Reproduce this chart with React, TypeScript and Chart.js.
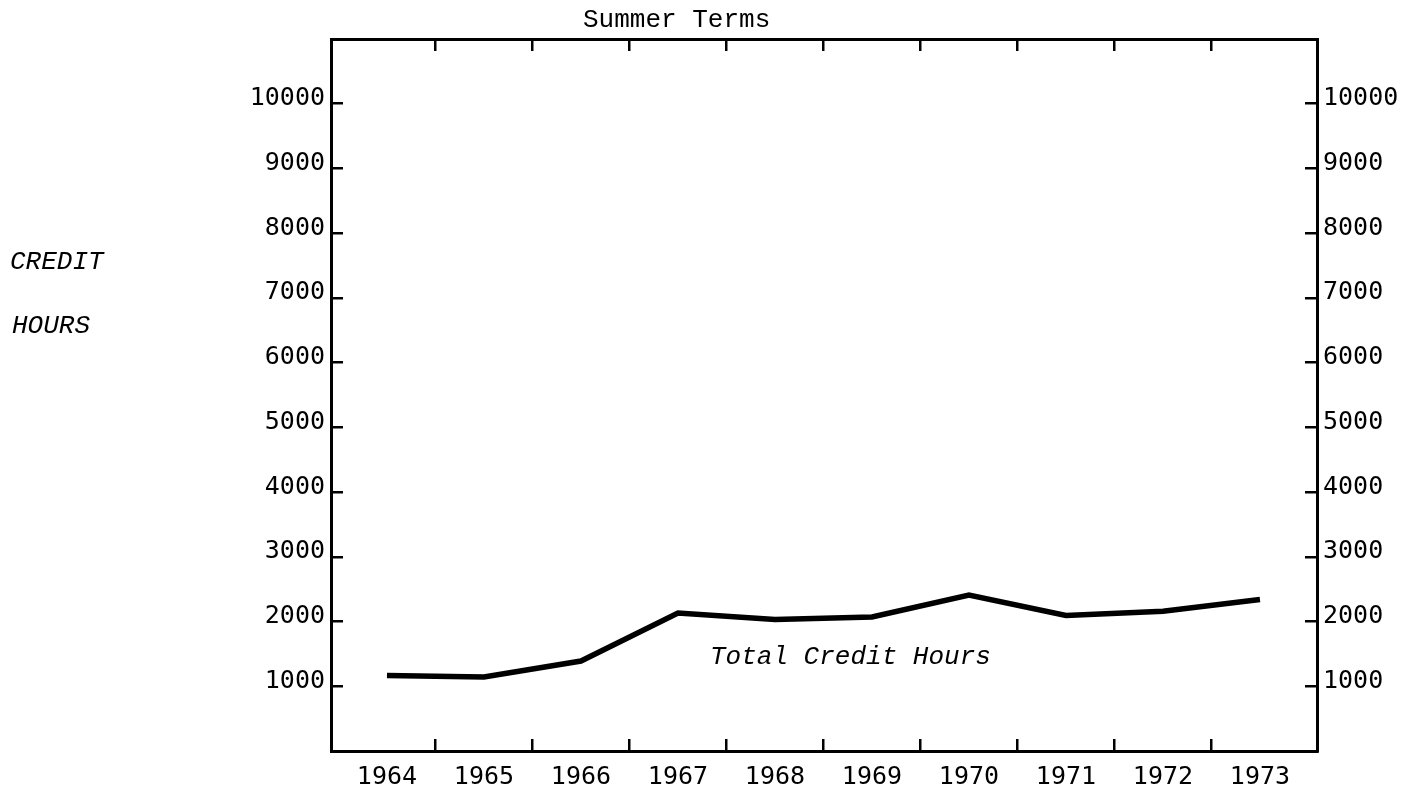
import React, { useEffect, useRef } from "react";
import { Chart, registerables } from "chart.js";

Chart.register(...registerables);

const years: number[] = [1964, 1965, 1966, 1967, 1968, 1969, 1970, 1971, 1972, 1973];
const creditHours: number[] = [1165, 1145, 1390, 2130, 2030, 2070, 2410, 2095, 2160, 2340];
const yMin = 0;
const yMax = 11000;
const yStep = 1000;
const yTickFirst = 1000;
const yTickLast = 10000;
const xMin = 1963.423;
const xMax = 1973.588;

const titleText = "Summer Terms";
const yTitleLines: string[] = ["CREDIT", "HOURS"];
const seriesLabel = "Total Credit Hours";

const tickFont = { family: "'DejaVu Sans Mono', monospace", size: 25 };
const BLACK = "#000000";

function tickColor(ctx: any) {
  return ctx.type === "tick" && ctx.index > 0 ? BLACK : "rgba(0,0,0,0)";
}

function yearTicks(scale: any) {
  scale.ticks = years.map((v) => ({ value: v }));
}

export default function App() {
  const canvasRef = useRef<HTMLCanvasElement | null>(null);

  useEffect(() => {
    document.body.style.margin = "0";
    document.body.style.overflow = "hidden";
    const canvas = canvasRef.current;
    if (!canvas) return;

    const xCommon = {
      type: "linear" as const,
      min: xMin,
      max: xMax,
      bounds: "data" as const,
      border: { display: true, color: BLACK, width: 3 },
      grid: {
        offset: true,
        drawOnChartArea: false,
        drawTicks: true,
        tickLength: -12,
        lineWidth: 2.5,
        color: tickColor,
      },
      afterBuildTicks: yearTicks,
    };

    const yCommon = {
      type: "linear" as const,
      min: yMin,
      max: yMax,
      border: { display: true, color: BLACK, width: 3 },
      grid: {
        drawOnChartArea: false,
        drawTicks: true,
        tickLength: -12,
        lineWidth: 2.5,
        color: BLACK,
      },
      afterBuildTicks: (scale: any) => {
        scale.ticks = scale.ticks.filter(
          (t: any) => t.value >= yTickFirst && t.value <= yTickLast
        );
      },
    };

    const chart = new Chart(canvas, {
      type: "line",
      data: {
        datasets: [
          {
            label: seriesLabel,
            data: years.map((yr, i) => ({ x: yr, y: creditHours[i] })),
            borderColor: BLACK,
            borderWidth: 5.5,
            pointRadius: 0,
            tension: 0,
            fill: false,
            borderCapStyle: "butt",
            borderJoinStyle: "miter",
            xAxisID: "x",
            yAxisID: "y",
          },
        ],
      },
      options: {
        animation: false,
        responsive: true,
        maintainAspectRatio: false,
        layout: { padding: 0 },
        plugins: {
          legend: { display: false },
          title: { display: false },
          tooltip: { enabled: false },
        },
        scales: {
          x: {
            ...xCommon,
            position: "bottom",
            ticks: {
              autoSkip: false,
              maxRotation: 0,
              color: BLACK,
              font: tickFont,
              padding: 23,
              callback: (v: any) => String(v),
            },
            afterFit: (scale: any) => {
              scale.height = 41;
            },
          },
          x2: {
            ...xCommon,
            position: "top",
            ticks: {
              display: false,
              autoSkip: false,
            },
            afterFit: (scale: any) => {
              scale.height = 39;
            },
          },
          y: {
            ...yCommon,
            position: "left",
            ticks: {
              stepSize: yStep,
              color: BLACK,
              font: tickFont,
              padding: 18,
              labelOffset: -5,
              callback: (v: any) => String(v),
            },
            afterFit: (scale: any) => {
              scale.width = 331;
            },
          },
          y2: {
            ...yCommon,
            position: "right",
            ticks: {
              stepSize: yStep,
              color: BLACK,
              font: tickFont,
              padding: 18,
              labelOffset: -5,
              callback: (v: any) => String(v),
            },
            afterFit: (scale: any) => {
              scale.width = 102;
            },
          },
        },
      },
    } as any);

    return () => {
      chart.destroy();
    };
  }, []);

  const monoFont = "'Liberation Mono', 'Courier New', monospace";
  const textStyle: React.CSSProperties = {
    position: "absolute",
    fontFamily: monoFont,
    fontSize: 26,
    lineHeight: "26px",
    color: BLACK,
    whiteSpace: "nowrap",
  };

  return (
    <div style={{ position: "relative", width: 1419, height: 792, background: "#ffffff" }}>
      <canvas ref={canvasRef} />
      <div style={{ ...textStyle, left: 583, top: 7 }}>{titleText}</div>
      <div style={{ ...textStyle, left: 10, top: 249, fontStyle: "italic" }}>{yTitleLines[0]}</div>
      <div style={{ ...textStyle, left: 12, top: 313, fontStyle: "italic" }}>{yTitleLines[1]}</div>
      <div style={{ ...textStyle, left: 710, top: 644, fontStyle: "italic" }}>{seriesLabel}</div>
    </div>
  );
}
